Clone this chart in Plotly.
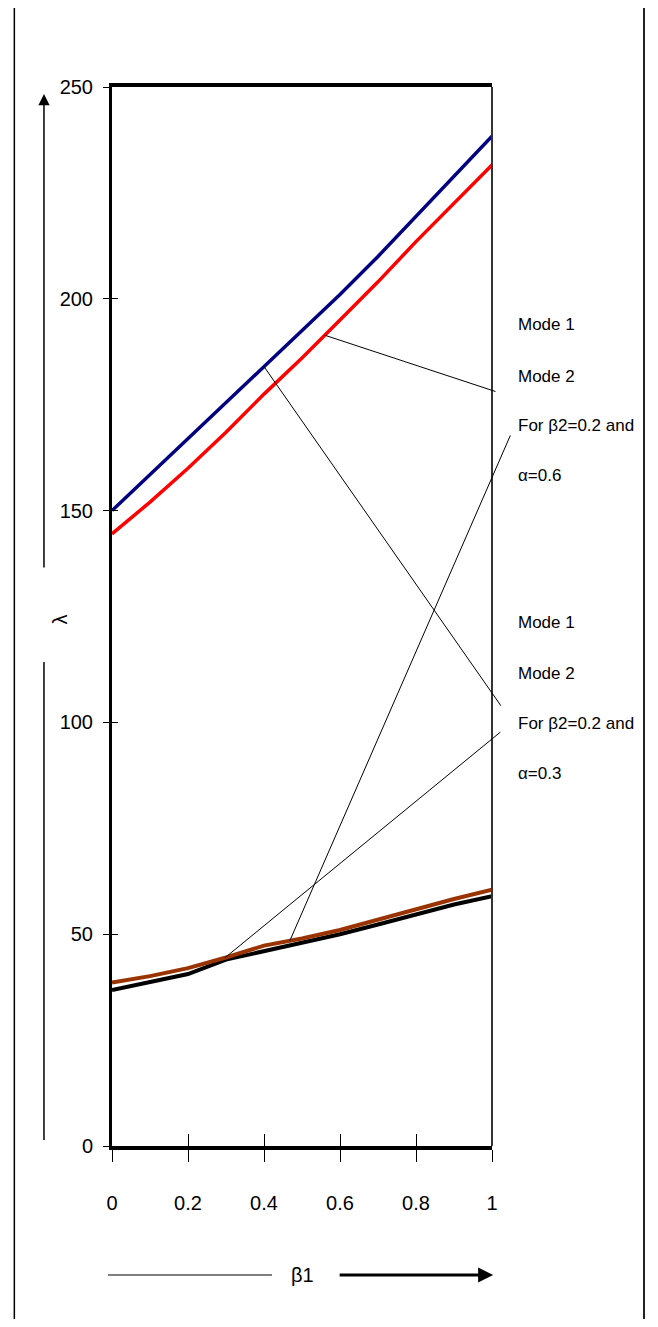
import plotly.graph_objects as go
import numpy as np

# ---- data ----
beta1 = [0, 0.1, 0.2, 0.3, 0.4, 0.5, 0.6, 0.7, 0.8, 0.9, 1.0]
mode1_a06 = [150, 158.5, 167, 175.5, 184, 192.5, 201, 210, 219.5, 229, 238.4]
mode2_a06 = [144.5, 152, 160, 168.5, 177.5, 186, 195, 204, 213.5, 222.5, 231.6]
mode1_a03 = [36.8, 38.7, 40.6, 44.0, 46.0, 48.0, 50.0, 52.3, 54.7, 57.0, 59.0]
mode2_a03 = [38.6, 40.1, 42.0, 44.5, 47.3, 49.0, 51.0, 53.4, 56.0, 58.3, 60.5]

x_ticks = [0, 0.2, 0.4, 0.6, 0.8, 1]
x_tick_labels = ["0", "0.2", "0.4", "0.6", "0.8", "1"]
y_ticks = [0, 50, 100, 150, 200, 250]
y_tick_labels = ["0", "50", "100", "150", "200", "250"]

label_block_06 = ["Mode 1", "Mode 2", "For β2=0.2 and", "α=0.6"]
label_block_03 = ["Mode 1", "Mode 2", "For β2=0.2 and", "α=0.3"]

FONT = "Liberation Sans, Arial, sans-serif"
TICK_SIZE = 20
LABEL_SIZE = 17

fig = go.Figure()
fig.add_trace(go.Scatter(x=beta1, y=mode1_a06, mode="lines", name="Mode 1 (α=0.6)",
                         line=dict(color="#000080", width=3.5)))
fig.add_trace(go.Scatter(x=beta1, y=mode2_a06, mode="lines", name="Mode 2 (α=0.6)",
                         line=dict(color="#FF0000", width=3.5)))
fig.add_trace(go.Scatter(x=beta1, y=mode1_a03, mode="lines", name="Mode 1 (α=0.3)",
                         line=dict(color="#000000", width=4)))
fig.add_trace(go.Scatter(x=beta1, y=mode2_a03, mode="lines", name="Mode 2 (α=0.3)",
                         line=dict(color="#993300", width=4)))
# helper trace for overlay tick axes
fig.add_trace(go.Scatter(x=[None], y=[None], xaxis="x2", yaxis="y2", showlegend=False,
                         hoverinfo="skip"))

# page body has an 8px margin, so the figure is placed at (8, 8)
fig.update_layout(
    width=650, height=1311,
    margin=dict(l=104, r=166, t=79, b=173),
    paper_bgcolor="white", plot_bgcolor="white",
    showlegend=False,
    font=dict(family=FONT, size=TICK_SIZE, color="black"),
    xaxis=dict(range=[0, 1], tickvals=x_ticks, ticktext=x_tick_labels,
               showgrid=False, zeroline=False, showline=True, linewidth=4,
               linecolor="black", mirror=True, ticks="outside", ticklen=12,
               tickwidth=1, tickcolor="black", ticklabelstandoff=24,
               tickfont=dict(family=FONT, size=TICK_SIZE)),
    yaxis=dict(range=[0, 250], tickvals=y_ticks, ticktext=y_tick_labels,
               showgrid=False, zeroline=False, showline=True, linewidth=3,
               linecolor="black", ticks="outside", ticklen=6, tickwidth=1,
               tickcolor="black", ticklabelstandoff=6,
               tickfont=dict(family=FONT, size=TICK_SIZE)),
    xaxis2=dict(overlaying="x", range=[0, 1], tickvals=x_ticks, showticklabels=False,
                ticks="inside", ticklen=12, tickwidth=1, tickcolor="black",
                showgrid=False, zeroline=False, showline=False, side="bottom"),
    yaxis2=dict(overlaying="y", range=[0, 250], tickvals=y_ticks, showticklabels=False,
                ticks="inside", ticklen=6, tickwidth=1, tickcolor="black",
                showgrid=False, zeroline=False, showline=False, side="left"),
)

# right border of plot area (thinner, grey)
fig.add_shape(type="line", xref="paper", yref="paper", x0=1, x1=1, y0=0, y1=1,
              line=dict(color="#333333", width=2))
# page frame lines
fig.add_shape(type="line", xref="paper", yref="paper", x0=-0.257, x1=-0.257,
              y0=-0.175, y1=1.0746, line=dict(color="black", width=1.5))
fig.add_shape(type="line", xref="paper", yref="paper", x0=1.40, x1=1.40,
              y0=-0.175, y1=1.0746, line=dict(color="#222222", width=2))

# y axis arrow (lambda)
fig.add_annotation(xref="paper", yref="paper", x=-0.179, y=0.9934,
                   axref="pixel", ayref="pixel", ax=0, ay=475, text="",
                   showarrow=True, arrowhead=2, arrowsize=1.5, arrowwidth=1.5,
                   arrowcolor="black", standoff=0, startstandoff=0)
fig.add_shape(type="line", xref="paper", yref="paper", x0=-0.179, x1=-0.179,
              y0=0.0057, y1=0.457, line=dict(color="black", width=1.5))
fig.add_annotation(xref="paper", yref="paper", x=-0.137, y=0.497, text="λ",
                   xanchor="center", yanchor="middle",
                   showarrow=False, textangle=-90, font=dict(family=FONT, size=TICK_SIZE))

# x axis arrow (beta1)
fig.add_shape(type="line", xref="paper", yref="paper", x0=-0.0105, x1=0.421,
              y0=-0.1218, y1=-0.1218, line=dict(color="black", width=1))
fig.add_annotation(xref="paper", yref="paper", x=1.003, y=-0.1218,
                   axref="pixel", ayref="pixel", ax=-155, ay=0, text="",
                   showarrow=True, arrowhead=2, arrowsize=1, arrowwidth=3,
                   arrowcolor="black", standoff=0, startstandoff=0)
fig.add_annotation(xref="paper", yref="paper", x=0.5, y=-0.1218, text="β1",
                   xanchor="center", yanchor="middle",
                   showarrow=False, font=dict(family=FONT, size=TICK_SIZE))

# label blocks
ys06 = [0.7753, 0.7271, 0.6808, 0.6327]
ys03 = [0.4939, 0.4466, 0.3994, 0.3522]
for txt, yy in zip(label_block_06 + label_block_03, ys06 + ys03):
    fig.add_annotation(xref="paper", yref="paper", x=1.063, y=yy, text=txt,
                       xanchor="left", yanchor="middle", showarrow=False,
                       font=dict(family=FONT, size=LABEL_SIZE))

# leader lines from labels to curves
def leader(series, bx, tail_x, tail_y):
    fig.add_annotation(x=bx, y=float(np.interp(bx, beta1, series)), xref="x", yref="y",
                       axref="x", ayref="y", ax=tail_x, ay=tail_y, text="",
                       showarrow=True, arrowhead=0, arrowwidth=1, arrowcolor="black",
                       standoff=0, startstandoff=0)

leader(mode2_a06, 0.56, 1.013, 178.0)
leader(mode2_a03, 0.468, 1.05, 168.1)
leader(mode1_a06, 0.40, 1.026, 103.6)
leader(mode2_a03, 0.297, 1.026, 98.0)

fig.write_html("out.html")
